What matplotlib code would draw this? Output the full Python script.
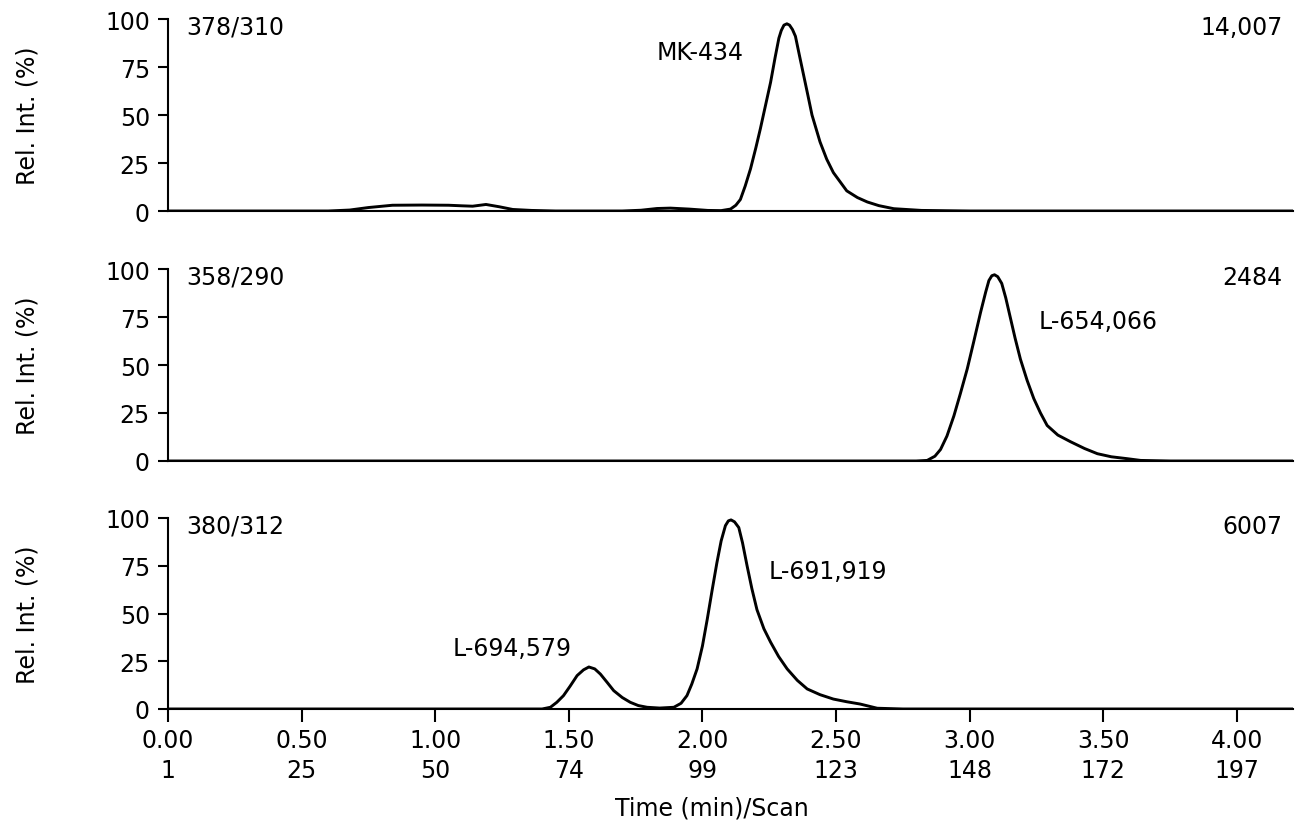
import matplotlib as mpl
import matplotlib.pyplot as plt

mpl.rcParams.update({
    "font.family": "sans-serif",
    "font.sans-serif": ["DejaVu Sans"],
    "font.size": 17,
    "axes.linewidth": 1.5,
})

# ion channels (parent/daughter) and their absolute counts
channels = ["378/310", "358/290", "380/312"]
counts = ["14,007", "2484", "6007"]

# relative intensity traces, time in minutes
t_378 = [0.00, 0.60, 0.68, 0.75, 0.84, 0.95, 1.05, 1.10, 1.14, 1.19, 1.24, 1.29, 1.36, 1.45,
         1.70, 1.77, 1.83, 1.88, 1.95, 2.02, 2.07, 2.105, 2.125, 2.142, 2.16, 2.18, 2.20, 2.217,
         2.236, 2.255, 2.272, 2.286, 2.295, 2.305, 2.316, 2.326, 2.337, 2.348, 2.363, 2.379,
         2.395, 2.41, 2.44, 2.465, 2.49, 2.54, 2.58, 2.617, 2.66, 2.716, 2.82, 3.00, 4.21]
i_378 = [0, 0, 0.5, 1.8, 3.0, 3.1, 3.0, 2.7, 2.5, 3.4, 2.2, 0.8, 0.3, 0,
         0, 0.4, 1.3, 1.5, 1.0, 0.3, 0.2, 1, 3, 6, 13, 22, 33, 43,
         55, 67, 80, 90, 94, 96.8, 97.5, 96.8, 94.5, 91, 81, 70.5,
         60, 50, 36, 27, 20, 10.5, 7, 4.7, 2.8, 1.2, 0.3, 0, 0]

t_358 = [0.00, 2.80, 2.841, 2.87, 2.891, 2.915, 2.941, 2.965, 2.991, 3.015, 3.041, 3.06, 3.072,
         3.083, 3.093, 3.105, 3.12, 3.135, 3.15, 3.17, 3.19, 3.215, 3.24, 3.265, 3.29, 3.33,
         3.378, 3.43, 3.478, 3.53, 3.59, 3.64, 3.75, 4.21]
i_358 = [0, 0, 0.3, 2.5, 6, 13, 23.5, 35, 48, 62, 77.5, 88, 94,
         96.5, 97, 96, 92.5, 85, 76, 64, 53, 42, 32.5, 25, 18.5, 13.5,
         10, 6.5, 3.8, 2.2, 1.2, 0.3, 0, 0]

t_380 = [0.00, 1.40, 1.431, 1.455, 1.48, 1.505, 1.531, 1.555, 1.575, 1.597, 1.618, 1.643, 1.668,
         1.70, 1.73, 1.76, 1.793, 1.84, 1.893, 1.92, 1.942, 1.96, 1.98, 2.00, 2.018, 2.036, 2.054,
         2.07, 2.086, 2.097, 2.107, 2.12, 2.136, 2.15, 2.167, 2.185, 2.204, 2.23, 2.255, 2.285,
         2.317, 2.355, 2.392, 2.44, 2.49, 2.54, 2.59, 2.654, 2.75, 4.21]
i_380 = [0, 0, 0.9, 3.5, 7, 12, 17.5, 20.5, 22, 21, 18.3, 14, 9.6,
         6, 3.5, 1.8, 0.9, 0.5, 0.9, 3, 7, 13, 21, 33, 47, 62, 76.5,
         88, 96, 98.5, 99, 98, 95, 87, 75, 63, 52, 42, 35, 27.5,
         21, 15, 10.5, 7.5, 5.2, 3.8, 2.6, 0.4, 0, 0]

traces = [(t_378, i_378), (t_358, i_358), (t_380, i_380)]

# compound names and where they sit (time, rel. int.)
peak_labels = [
    [("MK-434", 1.83, 83)],
    [("L-654,066", 3.258, 73)],
    [("L-691,919", 2.247, 72), ("L-694,579", 1.067, 32)],
]

time_ticks = [0.0, 0.5, 1.0, 1.5, 2.0, 2.5, 3.0, 3.5, 4.0]
scan_ticks = [1, 25, 50, 74, 99, 123, 148, 172, 197]
y_ticks = [0, 25, 50, 75, 100]

fig = plt.figure(figsize=(13, 8.28), dpi=100)

W, H = 1300, 828
left, right = 168, 1293
panel_px = [(20, 212), (270, 462), (519, 710)]

axes = []
for top, bottom in panel_px:
    ax = fig.add_axes([left / W, 1 - bottom / H, (right - left) / W, (bottom - top) / H])
    axes.append(ax)

for k, ax in enumerate(axes):
    t, v = traces[k]
    ax.plot(t, v, color="black", lw=2.1, solid_joinstyle="round")
    ax.set_xlim(0, 4.21)
    ax.set_ylim(0, 100)
    ax.spines["top"].set_visible(False)
    ax.spines["right"].set_visible(False)
    ax.set_yticks(y_ticks)
    ax.tick_params(axis="y", direction="out", length=7, width=1.5, pad=6, labelsize=17)
    ax.set_ylabel("Rel. Int. (%)", fontsize=17)
    ax.yaxis.set_label_coords(-0.114, 0.5)

    ax.text(0.07, 96, channels[k], ha="left", va="center", fontsize=17)
    ax.text(4.17, 96, counts[k], ha="right", va="center", fontsize=17)
    for name, x, y in peak_labels[k]:
        ax.text(x, y, name, ha="left", va="center", fontsize=17)

    if k < 2:
        ax.set_xticks([])
    else:
        ax.set_xticks(time_ticks,
                      [f"{tt:.2f}\n{s}" for tt, s in zip(time_ticks, scan_ticks)])
        ax.tick_params(axis="x", direction="out", length=9.5, width=1.5, pad=4, labelsize=17)
        for lab in ax.get_xticklabels():
            lab.set_linespacing(1.35)
        ax.set_xlabel("Time (min)/Scan", fontsize=17)
        ax.xaxis.set_label_coords((712 - left) / (right - left), -0.455)

fig.savefig("out.png", dpi=100)
